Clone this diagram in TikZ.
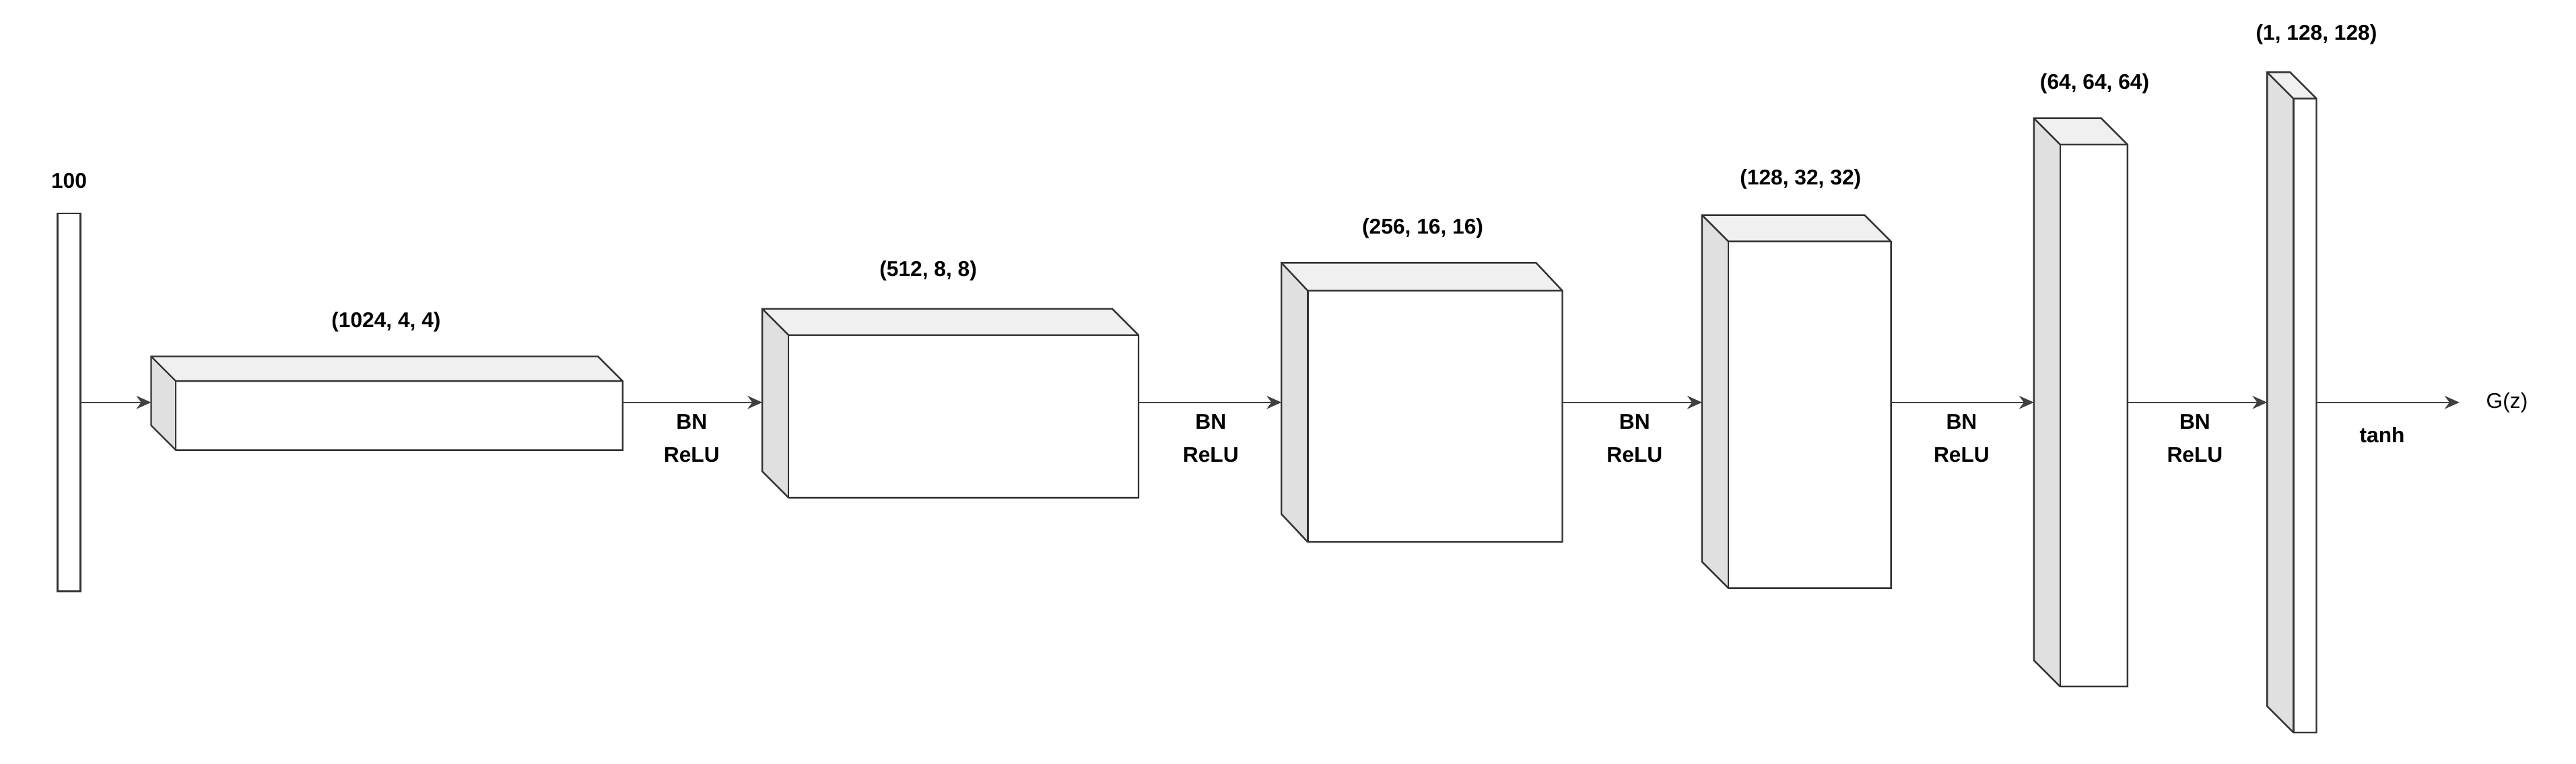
\documentclass[tikz,border=0pt]{standalone}
\usepackage{fontspec}
\setmainfont{Liberation Sans}
\usetikzlibrary{arrows.meta}
\newcommand\mycube[7]{% name, xb, ytop, xf1, xf2, yf1, yf2
  \pgfmathsetmacro\dxx{#4-#2}\pgfmathsetmacro\dyy{#6-#3}
  \fill[sidefill] (#2,-#3) -- (#4,-#6) -- (#4,-#7) -- (#2,-#7+\dyy) -- cycle;
  \fill[topfill] (#2,-#3) -- (#5-\dxx,-#3) -- (#5,-#6) -- (#4,-#6) -- cycle;
  \draw[edge] (#2,-#3) -- (#5-\dxx,-#3) -- (#5,-#6) -- (#5,-#7) -- (#4,-#7) -- (#2,-#7+\dyy) -- cycle;
  \draw[edge] (#2,-#3) -- (#4,-#6) -- (#5,-#6);
  \draw[edge] (#4,-#6) -- (#4,-#7);
  \coordinate (#1in) at (#2,-245);
  \coordinate (#1out) at (#5,-245);
}
\begin{document}
\begin{tikzpicture}[x=1pt,y=1pt,
  sidefill/.style={fill=black!12},
  topfill/.style={fill=black!6},
  edge/.style={draw=black!80,line width=1pt,line join=miter},
  conn/.style={draw=black!75,line width=1pt,-{Stealth[length=9pt,width=8pt]}},
  lbl/.style={font=\bfseries\fontsize{13}{15}\selectfont,align=center,inner sep=0pt}]
\useasboundingbox (0,0) rectangle (1568,-465);
% input bar
\draw[edge,fill=white] (35,-130) rectangle (49,-360);
\coordinate (inp) at (49,-245);
\node[lbl] (l0) at (42,-110) {100};
\mycube{a}{92}{217}{107}{379}{232}{274}
\mycube{b}{464}{188}{480}{693}{204}{303}
\mycube{c}{780}{160}{796}{951}{177}{330}
\mycube{d}{1036}{131}{1052}{1151}{147}{358}
\mycube{e}{1238}{72}{1254}{1295}{88}{418}
\mycube{f}{1380}{44}{1396}{1410}{60}{446}
\node[lbl] (la) at (235,-196) {(1024, 4, 4)};
\node[lbl] (lb) at (565,-165) {(512, 8, 8)};
\node[lbl] (lc) at (866,-139) {(256, 16, 16)};
\node[lbl] (ld) at (1096,-109) {(128, 32, 32)};
\node[lbl] (le) at (1275,-51) {(64, 64, 64)};
\node[lbl] (lf) at (1410,-21) {(1, 128, 128)};
\coordinate (gend) at (1497,-245);
\draw[conn] (inp) -- (ain);
\draw[conn] (aout) -- (bin);
\draw[conn] (bout) -- (cin);
\draw[conn] (cout) -- (din);
\draw[conn] (dout) -- (ein);
\draw[conn] (eout) -- (fin);
\draw[conn] (fout) -- (gend);
\foreach \x/\n in {421/r1,737/r2,995/r3,1194/r4,1336/r5}
  \node[lbl] (\n) at (\x,-267) {BN\\[5pt]ReLU};
\node[lbl] (th) at (1450,-265) {tanh};
\node[font=\fontsize{13}{15}\selectfont,inner sep=0pt] (gz) at (1526,-245) {G(z)};
\end{tikzpicture}
\end{document}
